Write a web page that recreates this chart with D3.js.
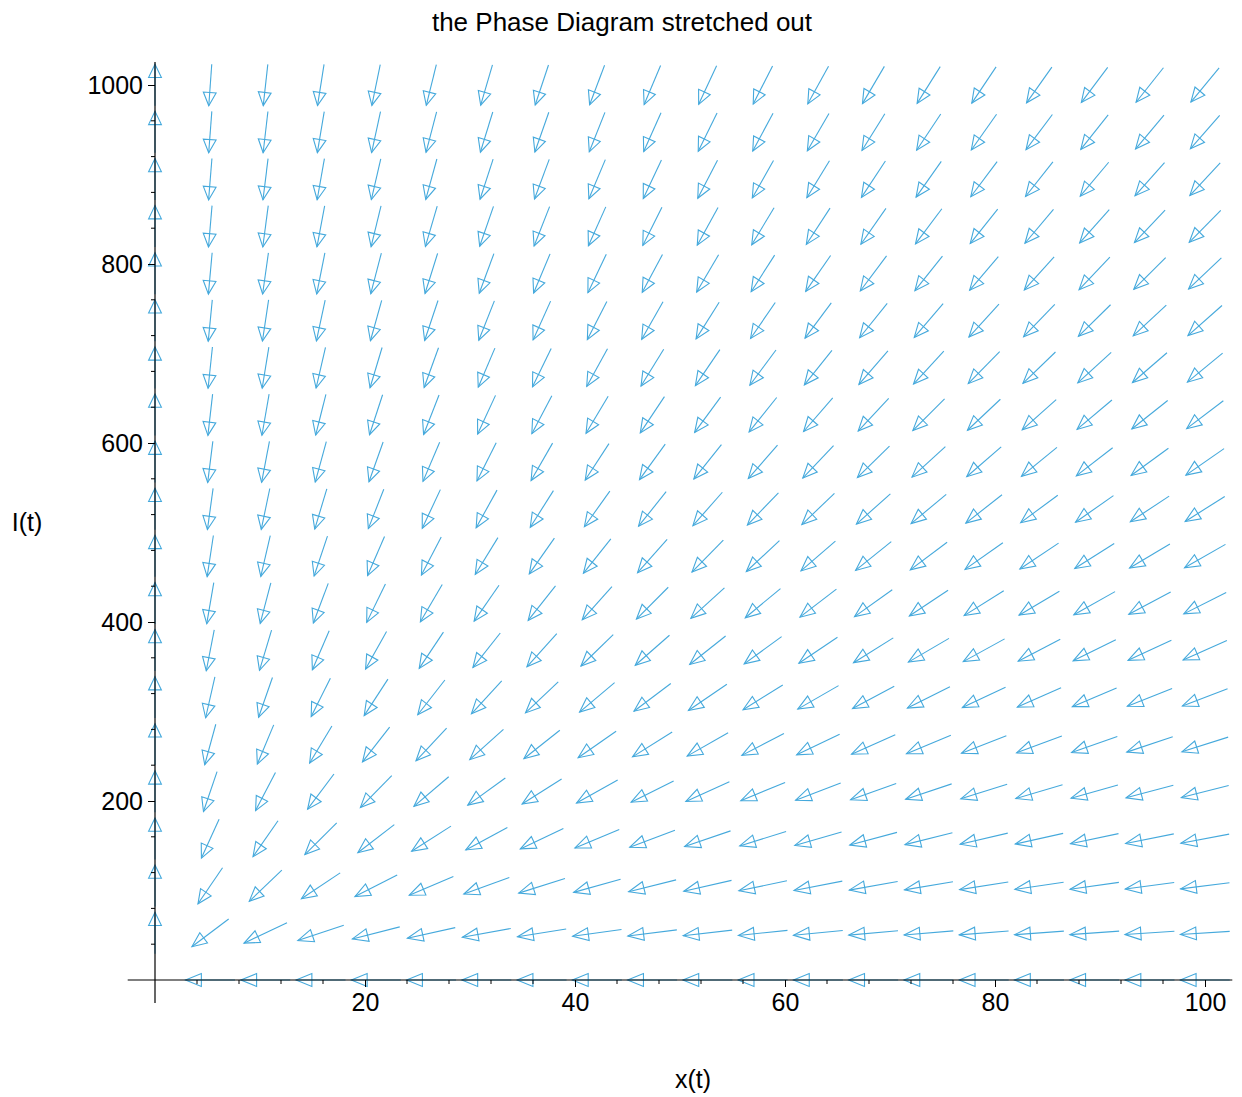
<!DOCTYPE html>
<html>
<head>
<meta charset="utf-8">
<script src="https://cdn.jsdelivr.net/npm/d3@7"></script>
<style>
  html, body { margin: 0; padding: 0; background: #fff; }
  svg { display: block; }
  text { font-family: "Liberation Sans", Arial, sans-serif; fill: #000; }
</style>
</head>
<body>
<svg id="chart" width="1242" height="1097"></svg>
<script>
// ---- data ----
const chartTitle = "the Phase Diagram stretched out";
const xLabel = "x(t)";
const yLabel = "I(t)";
// grid positions (20 x 20 grid)
const xGrid = [0, 5.263, 10.526, 15.789, 21.053, 26.316, 31.579, 36.842, 42.105, 47.368,
               52.632, 57.895, 63.158, 68.421, 73.684, 78.947, 84.211, 89.474, 94.737, 100];
const yGrid = [0, 52.63, 105.26, 157.89, 210.53, 263.16, 315.79, 368.42, 421.05, 473.68,
               526.32, 578.95, 631.58, 684.21, 736.84, 789.47, 842.11, 894.74, 947.37, 1000];
const xTicks = [20, 40, 60, 80, 100];
const yTicks = [200, 400, 600, 800, 1000];
// arrow direction at each grid point, degrees below the leftward horizontal
// (0 = pointing left, 90 = pointing down, -90 = pointing up, null = no arrow)
// rows listed from I = 1000 (top) down to I = 0 (bottom); columns x = 0 .. 100
const fieldAngles = [
  [-90, 85.9, 83.7, 81.0, 78.4, 76.1, 73.7, 71.6, 69.3, 67.2, 65.1, 63.1, 61.2, 59.5, 57.8, 56.1, 54.6, 53.1, 51.6, 50.3],
  [-90, 85.7, 83.4, 80.5, 77.7, 75.4, 72.9, 70.7, 68.3, 66.0, 63.9, 61.8, 59.9, 58.1, 56.3, 54.7, 53.1, 51.6, 50.0, 48.7],
  [-90, 85.4, 83.0, 80.0, 77.0, 74.6, 71.9, 69.6, 67.2, 64.8, 62.6, 60.5, 58.5, 56.6, 54.8, 53.1, 51.6, 50.0, 48.4, 47.1],
  [-90, 85.1, 82.5, 79.4, 76.3, 73.7, 70.9, 68.5, 65.9, 63.4, 61.1, 58.9, 56.9, 55.0, 53.1, 51.4, 49.9, 48.3, 46.7, 45.4],
  [-90, 84.8, 82.0, 78.7, 75.4, 72.6, 69.7, 67.2, 64.5, 61.9, 59.5, 57.3, 55.2, 53.2, 51.4, 49.6, 48.0, 46.5, 44.9, 43.5],
  [-90, 84.4, 81.5, 77.9, 74.4, 71.5, 68.4, 65.7, 62.9, 60.3, 57.8, 55.5, 53.3, 51.3, 49.4, 47.7, 46.0, 44.5, 42.9, 41.5],
  [-90, 84.0, 80.8, 77.0, 73.3, 70.1, 66.9, 64.1, 61.1, 58.4, 55.8, 53.4, 51.3, 49.2, 47.3, 45.5, 43.9, 42.4, 40.8, 39.5],
  [-90, 83.5, 80.1, 75.9, 71.9, 68.6, 65.2, 62.2, 59.2, 56.3, 53.7, 51.3, 49.0, 46.9, 45.0, 43.3, 41.6, 40.1, 38.5, 37.2],
  [-90, 82.9, 79.2, 74.7, 70.4, 66.9, 63.3, 60.1, 56.9, 54.0, 51.3, 48.8, 46.5, 44.5, 42.5, 40.8, 39.2, 37.7, 36.1, 34.8],
  [-90, 82.2, 78.2, 73.3, 68.6, 64.9, 61.0, 57.7, 54.4, 51.3, 48.6, 46.1, 43.8, 41.7, 39.8, 38.1, 36.5, 35.1, 33.5, 32.3],
  [-90, 81.4, 76.9, 71.5, 66.5, 62.5, 58.4, 54.9, 51.5, 48.4, 45.6, 43.0, 40.8, 38.8, 36.9, 35.2, 33.7, 32.3, 30.8, 29.7],
  [-90, 80.3, 75.3, 69.4, 64.0, 59.6, 55.3, 51.7, 48.2, 45.0, 42.2, 39.7, 37.5, 35.5, 33.7, 32.1, 30.7, 29.3, 27.9, 26.8],
  [-90, 79.0, 73.3, 66.7, 60.8, 56.2, 51.6, 47.9, 44.3, 41.2, 38.4, 36.0, 33.9, 32.0, 30.3, 28.8, 27.4, 26.2, 24.9, 23.9],
  [-90, 77.2, 70.8, 63.4, 56.9, 52.0, 47.3, 43.5, 40.0, 36.9, 34.2, 31.9, 29.9, 28.2, 26.6, 25.2, 24.0, 22.8, 21.7, 20.8],
  [-90, 74.7, 67.3, 59.0, 52.0, 46.8, 42.0, 38.4, 34.9, 32.0, 29.6, 27.4, 25.6, 24.0, 22.6, 21.4, 20.3, 19.3, 18.4, 17.6],
  [-90, 71.2, 62.4, 53.1, 45.6, 40.4, 35.8, 32.3, 29.2, 26.6, 24.4, 22.5, 21.0, 19.6, 18.5, 17.4, 16.5, 15.7, 14.8, 14.2],
  [-90, 65.5, 55.1, 44.9, 37.5, 32.6, 28.4, 25.4, 22.7, 20.6, 18.8, 17.3, 16.1, 15.0, 14.0, 13.2, 12.5, 11.9, 11.3, 10.8],
  [-90, 55.7, 43.7, 33.6, 27.1, 23.1, 19.9, 17.6, 15.6, 14.0, 12.8, 11.7, 10.9, 10.1, 9.5, 8.9, 8.4, 8.0, 7.6, 7.2],
  [-90, 37.0, 25.5, 18.4, 14.3, 12.5, 10.2, 9.0, 8.0, 7.1, 6.5, 5.9, 5.5, 5.1, 4.8, 4.5, 4.2, 4.0, 3.8, 3.6],
  [null, 0, 0, 0, 0, 0, 0, 0, 0, 0, 0, 0, 0, 0, 0, 0, 0, 0, 0, 0]
];

// ---- layout ----
const svg = d3.select("#chart");
const x = d3.scaleLinear().domain([0, 100]).range([155, 1205]);
const y = d3.scaleLinear().domain([0, 1000]).range([980, 85]);
const xView = [-2.6, 102.6];
const yView = [-25.7, 1025.7];
const arrowColor = "#45a9dc";
const Lx = 49.5, Ly = 41.5;   // arrow length horizontally / vertically (px)

// title
svg.append("text")
  .attr("x", 622).attr("y", 31)
  .attr("text-anchor", "middle")
  .attr("font-size", 26)
  .text(chartTitle);

// ---- arrows ----
const arrows = [];
const rowsTopDown = yGrid.slice().reverse();
fieldAngles.forEach((row, r) => {
  row.forEach((a, c) => {
    if (a === null) return;
    arrows.push({ xv: xGrid[c], yv: rowsTopDown[r], ang: a });
  });
});

const gA = svg.append("g")
  .attr("fill", "none")
  .attr("stroke", arrowColor)
  .attr("stroke-width", 1.1)
  .attr("stroke-linejoin", "miter");

arrows.forEach(d => {
  const t = d.ang * Math.PI / 180;
  const ux = -Math.cos(t), uy = Math.sin(t);
  const len = 1 / Math.sqrt((ux * ux) / (Lx * Lx) + (uy * uy) / (Ly * Ly));
  const cx = x(d.xv), cy = y(d.yv);
  const x0 = cx - ux * len / 2, y0 = cy - uy * len / 2;
  const x1 = cx + ux * len / 2, y1 = cy + uy * len / 2;
  const hl = 0.32 * len, hw = 6.4;
  const bx = x1 - ux * hl, by = y1 - uy * hl;
  const px = -uy, py = ux;
  gA.append("line")
    .attr("x1", x0).attr("y1", y0).attr("x2", x1).attr("y2", y1);
  gA.append("path")
    .attr("d", `M${x1},${y1}L${bx + px * hw},${by + py * hw}L${bx - px * hw},${by - py * hw}Z`);
});

// ---- axes ----
const gx = svg.append("g").attr("transform", `translate(0,${y(0)})`);
gx.append("line")
  .attr("x1", x(xView[0])).attr("x2", x(xView[1]))
  .attr("stroke", "#000").attr("stroke-width", 1.2);
const xMinor = d3.range(4, 101, 4).filter(v => v % 20 !== 0);
gx.selectAll(".xmin").data(xMinor).join("line")
  .attr("x1", d => x(d)).attr("x2", d => x(d))
  .attr("y1", 0).attr("y2", 4)
  .attr("stroke", "#000").attr("stroke-width", 1);
const xAxis = d3.axisBottom(x).tickValues(xTicks).tickSize(7).tickPadding(6).tickFormat(d3.format("d"));
const gxa = svg.append("g").attr("transform", `translate(0,${y(0)})`).call(xAxis);
gxa.select(".domain").remove();
gxa.selectAll("text").attr("font-size", 25).attr("font-family", "Liberation Sans, Arial, sans-serif").attr("fill", "#000");

const gy = svg.append("g").attr("transform", `translate(${x(0)},0)`);
gy.append("line")
  .attr("y1", y(yView[0])).attr("y2", y(yView[1]))
  .attr("stroke", "#000").attr("stroke-width", 1.2);
const yMinor = d3.range(40, 1001, 40).filter(v => v % 200 !== 0);
gy.selectAll(".ymin").data(yMinor).join("line")
  .attr("y1", d => y(d)).attr("y2", d => y(d))
  .attr("x1", 0).attr("x2", -4)
  .attr("stroke", "#000").attr("stroke-width", 1);
const yAxis = d3.axisLeft(y).tickValues(yTicks).tickSize(7).tickPadding(5).tickFormat(d3.format("d"));
const gya = svg.append("g").attr("transform", `translate(${x(0)},0)`).call(yAxis);
gya.select(".domain").remove();
gya.selectAll("text").attr("font-size", 25).attr("font-family", "Liberation Sans, Arial, sans-serif").attr("fill", "#000");

// axis labels
svg.append("text")
  .attr("x", 693).attr("y", 1088)
  .attr("text-anchor", "middle").attr("font-size", 25)
  .text(xLabel);
svg.append("text")
  .attr("x", 27).attr("y", 531)
  .attr("text-anchor", "middle").attr("font-size", 25)
  .text(yLabel);
</script>
</body>
</html>
